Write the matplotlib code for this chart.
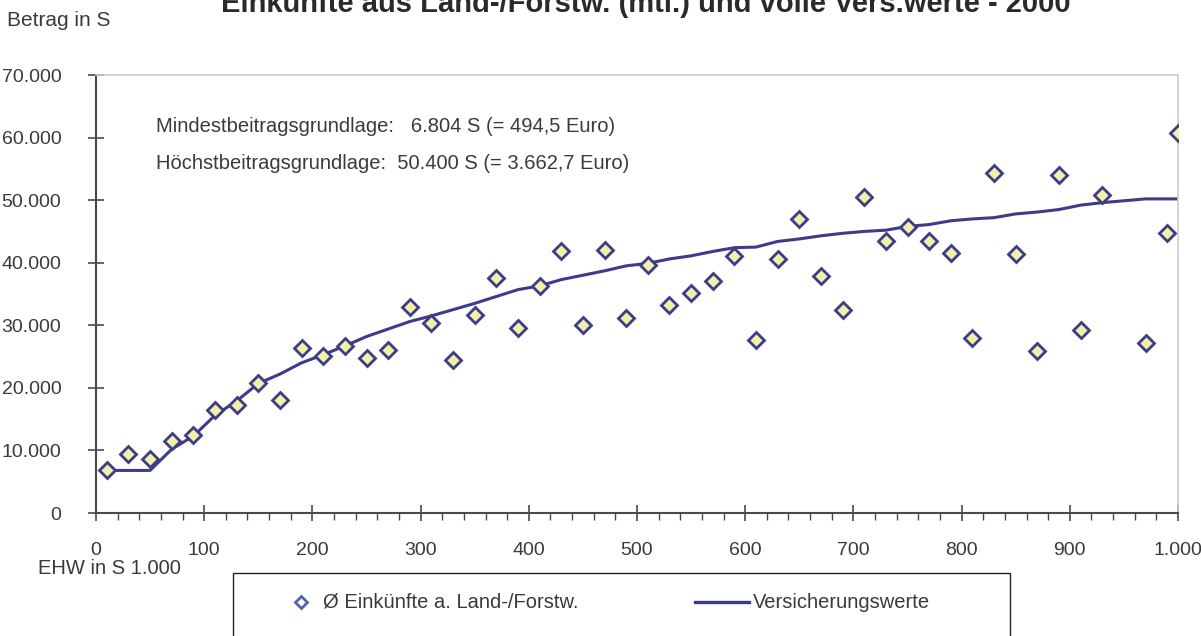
import matplotlib
matplotlib.use('Agg')
import matplotlib.pyplot as plt
from matplotlib.ticker import FuncFormatter, MultipleLocator
from matplotlib.patches import Rectangle
from matplotlib.lines import Line2D

plt.rcParams['font.family'] = ['Liberation Sans', 'DejaVu Sans']

# mean income from agriculture/forestry per EHW class (S 1.000)
ehw_points = [10, 30, 50, 70, 90, 110, 130, 150, 170, 190,
              210, 230, 250, 270, 290, 310, 330, 350, 370, 390,
              410, 430, 450, 470, 490, 510, 530, 550, 570, 590,
              610, 630, 650, 670, 690, 710, 730, 750, 770, 790,
              810, 830, 850, 870, 890, 910, 930, 970, 990, 1000]
einkuenfte = [6800, 9400, 8600, 11500, 12400, 16500, 17200, 20700, 18100, 26400,
              25100, 26700, 24800, 26000, 33000, 30400, 24500, 31700, 37500, 29600,
              36200, 41900, 30100, 42100, 31100, 39700, 33200, 35100, 37100, 41100,
              27600, 40600, 47000, 37900, 32500, 50500, 43500, 45700, 43500, 41600,
              27900, 54300, 41400, 25900, 54000, 29300, 50800, 27100, 44800, 60700]

# insured values
ehw_line = [10, 30, 50, 70, 90, 110, 130, 150, 170, 190,
            210, 230, 250, 270, 290, 310, 330, 350, 370, 390,
            410, 430, 450, 470, 490, 510, 530, 550, 570, 590,
            610, 630, 650, 670, 690, 710, 730, 750, 770, 790,
            810, 830, 850, 870, 890, 910, 930, 950, 970, 990, 1000]
versicherung = [6804, 6804, 6804, 10200, 12300, 15600, 17900, 20700, 22200, 24000,
                25300, 26700, 28200, 29400, 30600, 31500, 32500, 33500, 34600, 35700,
                36300, 37300, 38000, 38700, 39500, 39900, 40600, 41100, 41800, 42400,
                42500, 43400, 43800, 44300, 44700, 45000, 45200, 45800, 46100, 46700,
                47000, 47200, 47800, 48100, 48500, 49200, 49600, 49900, 50200, 50200, 50200]

x_ticks = [0, 100, 200, 300, 400, 500, 600, 700, 800, 900, 1000]
y_ticks = [0, 10000, 20000, 30000, 40000, 50000, 60000, 70000]

navy = '#3c3c88'
fill = '#f4f0a8'
txt = '#3a3a3a'
axc = '#4a4a4a'

W, H = 1201, 636


def fx(px):
    return px / W


def fy(py):
    return 1 - py / H


fig = plt.figure(figsize=(12.01, 6.36), dpi=100)
ax = fig.add_axes([fx(96), fy(513), 1082 / W, 438 / H])

ax.plot(ehw_line, versicherung, color=navy, lw=2.2, zorder=2)
ax.plot(ehw_points, einkuenfte, ls='none', marker='D', ms=8.5,
        mfc=fill, mec=navy, mew=2.0, zorder=3)

ax.set_xlim(0, 1000)
ax.set_ylim(0, 70000)
ax.set_xticks(x_ticks)
ax.set_yticks(y_ticks)
ax.xaxis.set_minor_locator(MultipleLocator(20))

fmt = FuncFormatter(lambda v, p: f'{int(v):,}'.replace(',', '.'))
ax.xaxis.set_major_formatter(fmt)
ax.yaxis.set_major_formatter(fmt)

ax.tick_params(axis='both', which='major', direction='inout', length=12,
               width=1.2, color=axc, labelsize=14, labelcolor=txt)
ax.tick_params(axis='x', which='major', pad=15)
ax.tick_params(axis='y', which='major', pad=19)
ax.tick_params(axis='x', which='minor', direction='out', length=5,
               width=1.0, color=axc)

for s in ['left', 'bottom']:
    ax.spines[s].set_color(axc)
    ax.spines[s].set_linewidth(1.5)
for s in ['top', 'right']:
    ax.spines[s].set_color('#cccccc')
    ax.spines[s].set_linewidth(1.2)

fig.text(fx(156), fy(127), 'Mindestbeitragsgrundlage:   6.804 S (= 494,5 Euro)',
         fontsize=14.5, color=txt, va='center')
fig.text(fx(156), fy(164), 'Höchstbeitragsgrundlage:  50.400 S (= 3.662,7 Euro)',
         fontsize=14.5, color=txt, va='center')

fig.text(fx(7), fy(20), 'Betrag in S', fontsize=15, color=txt, va='center')
fig.text(fx(38), fy(568), 'EHW in S 1.000', fontsize=14.5, color=txt, va='center')

# title: only its lower part is visible in the scan
fig.text(fx(646), fy(12),
         'Einkünfte aus Land-/Forstw. (mtl.) und volle Vers.werte - 2000',
         fontsize=21, fontweight='bold', color='#2a2a2a', ha='center', va='baseline')

# legend box, cut off by the lower edge like in the scan
fig.add_artist(Rectangle((fx(233), fy(650)), (1010 - 233) / W, 77 / H,
                         transform=fig.transFigure, facecolor='white',
                         edgecolor='#222222', lw=1.0))
fig.add_artist(Line2D([fx(301)], [fy(602)], transform=fig.transFigure,
                      ls='none', marker='D', ms=6.5, mfc='white',
                      mec='#5262b0', mew=2.0))
fig.text(fx(323), fy(602), 'Ø Einkünfte a. Land-/Forstw.', fontsize=14.5,
         color=txt, va='center')
fig.add_artist(Line2D([fx(695), fx(749)], [fy(602), fy(602)],
                      transform=fig.transFigure, color=navy, lw=2.4))
fig.text(fx(753), fy(602), 'Versicherungswerte', fontsize=14.5,
         color=txt, va='center')

fig.savefig('out.png', dpi=100)
